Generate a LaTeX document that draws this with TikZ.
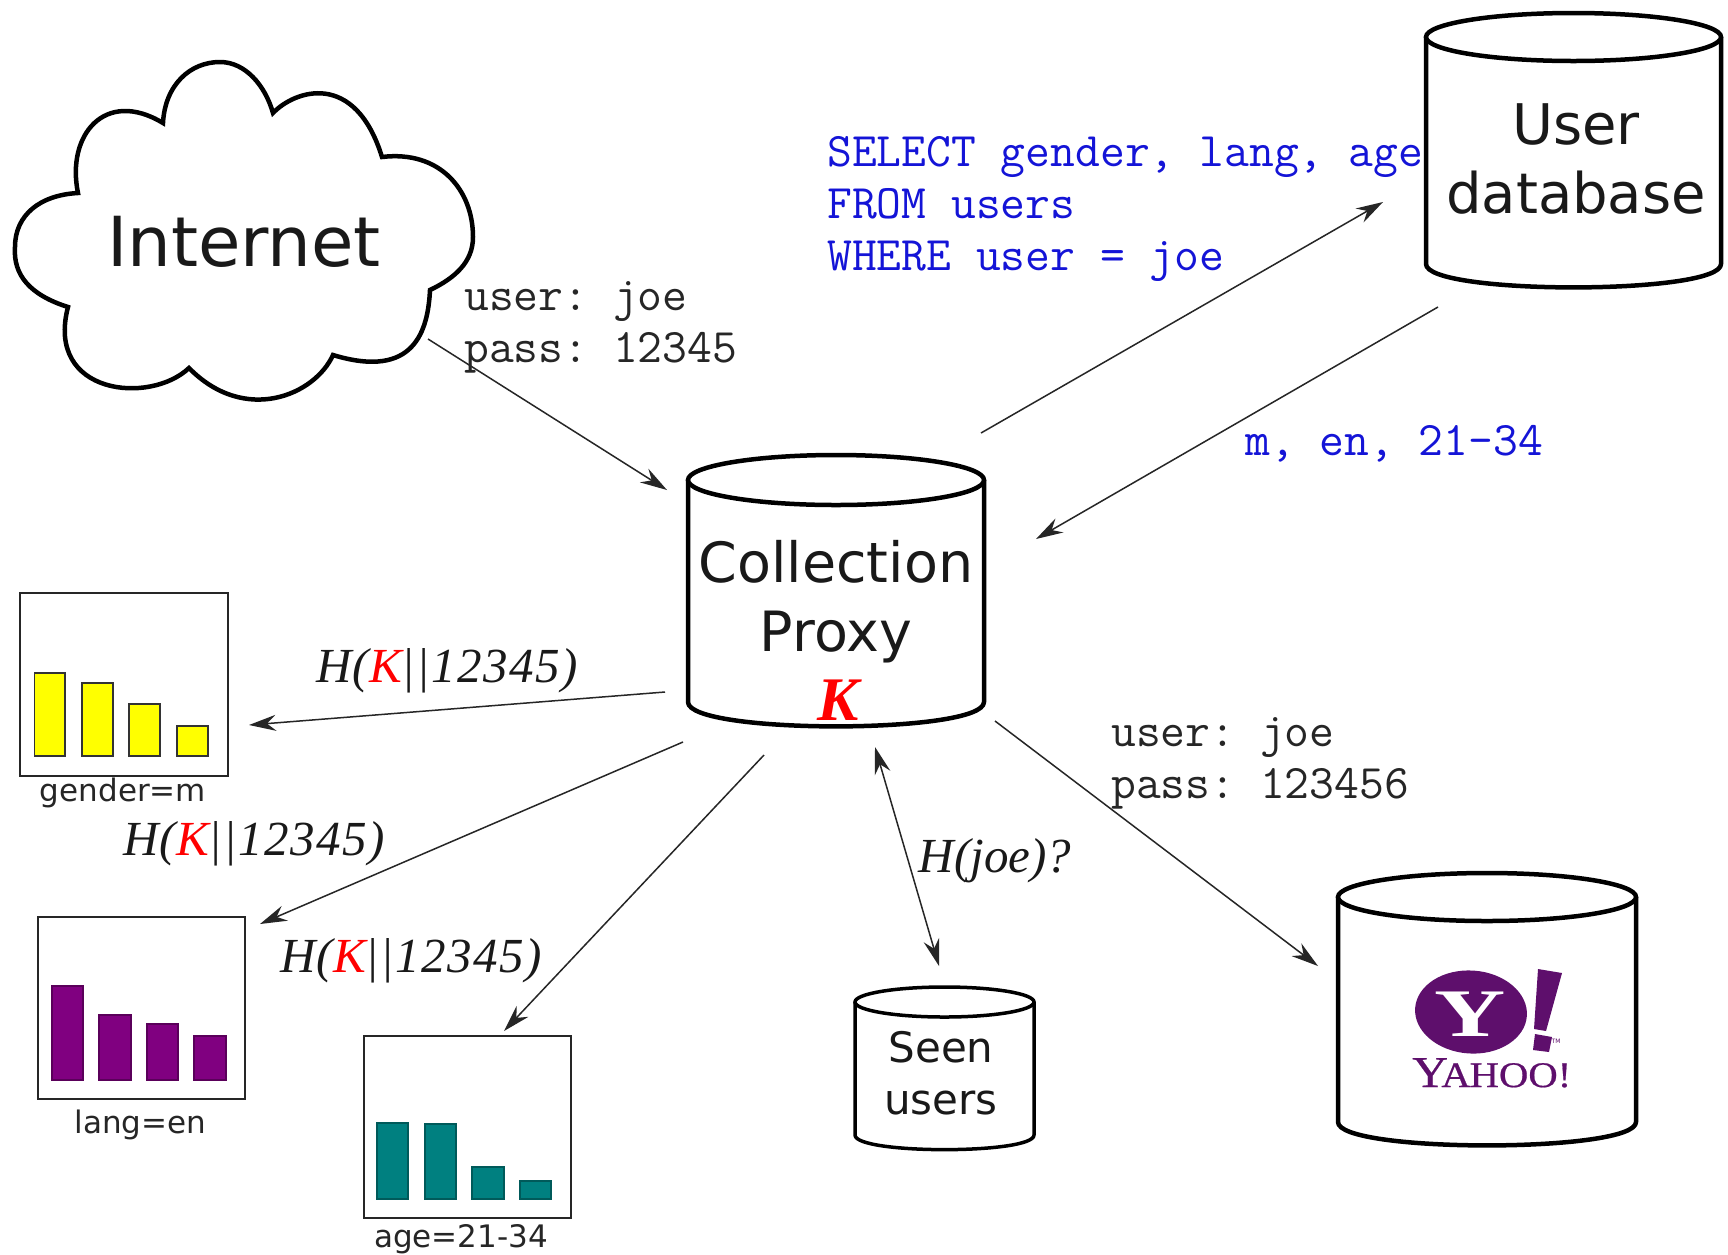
\documentclass[tikz,border=0pt]{standalone}
\usepackage{fontspec}
\setsansfont{DejaVu Sans}
\setmainfont{Liberation Serif}
\usetikzlibrary{arrows.meta,calc}
\newcommand{\fsz}[1]{\fontsize{#1}{#1}\selectfont}
\definecolor{yahoopurple}{HTML}{5E0F6C}
\definecolor{sqlblue}{RGB}{20,20,215}
\definecolor{baryellow}{RGB}{255,255,0}
\definecolor{barpurple}{HTML}{800080}
\definecolor{barteal}{HTML}{008080}
\newcommand{\dbcyl}[6][4.5pt]{%
  \draw[line width=#1,fill=white,line join=round]
    (#2,{#4}) -- (#2,#6) .. controls (#2,{#6+#5*1.3}) and (#3,{#6+#5*1.3}) .. (#3,#6) -- (#3,#4);
  \draw[line width=#1,fill=white] ({(#2+#3)/2},#4) ellipse [x radius={(#3-#2)/2}, y radius=#5];
}
\tikzset{
  conn/.style={line width=1.5pt,draw=black!85,-{Stealth[length=27pt,width=16pt,inset=9pt]}},
  conntwo/.style={line width=1.5pt,draw=black!85,{Stealth[length=27pt,width=16pt,inset=9pt]}-{Stealth[length=27pt,width=16pt,inset=9pt]}},
  region/.style={inner sep=0pt,outer sep=0pt},
  chartbox/.style={draw=black!85,line width=2pt,fill=white,inner sep=0pt,outer sep=0pt},
  bar/.style={draw=black!80,line width=1.5pt},
  chartlabel/.style={font=\sffamily\fsz{31},text=black!85,inner sep=0pt},
  hashlabel/.style={font=\itshape\fsz{49}\addfontfeatures{LetterSpace=3},text=black!90,inner sep=0pt},
  monolabel/.style={font=\ttfamily\fontsize{48.2}{52}\selectfont\addfontfeatures{FakeBold=0.3}\frenchspacing,text=black!85,align=left,anchor=west,inner sep=0pt},
  sqllabel/.style={monolabel,text=sqlblue},
  bigsans/.style={align=center,text=black!90,inner sep=0pt},
}
\begin{document}
\begin{tikzpicture}[x=1pt,y=-1pt]
\useasboundingbox[fill=white] (0,0) rectangle (1728,1254);

% Internet cloud
\draw[line width=4.5pt,line join=miter,fill=white]
  (78,193) .. controls (66,135) and (105,88) .. (163,123)
  .. controls (165,85) and (190,62) .. (220,62)
  .. controls (245,62) and (265,85) .. (273,113)
  .. controls (295,90) and (355,70) .. (382,157)
  .. controls (440,150) and (473,190) .. (473,237)
  .. controls (473,262) and (455,278) .. (430,290)
  .. controls (428,330) and (415,380) .. (333,355)
  .. controls (315,395) and (245,425) .. (189,368)
  .. controls (150,405) and (45,395) .. (68,307)
  .. controls (30,295) and (13,275) .. (15,247)
  .. controls (15,215) and (40,195) .. (78,193) -- cycle;
\node[bigsans,font=\sffamily\fsz{69}] (inet) at (244,242) {Internet};

% Cylinders
\dbcyl{1426}{1721}{37}{24}{264}
\node[bigsans,font=\sffamily\fontsize{56}{69}\selectfont,text width=290pt] (db) at (1576,159) {User\\database};
\dbcyl{688}{984}{480}{25}{702}
\node[bigsans,font=\sffamily\fontsize{55.5}{69}\selectfont,text width=290pt] (proxy) at (836,602) {Collection\\Proxy};
\dbcyl[3.5pt]{855}{1034}{1002}{15}{1135}
\node[bigsans,font=\sffamily\fontsize{42}{52}\selectfont,text width=170pt] (seen) at (941,1073) {Seen\\users};
\dbcyl{1338}{1636}{897}{24}{1122}
\node[region,minimum width=298pt,minimum height=270pt] (yahoo) at (1487,1010) {};
\node[text=red,font=\bfseries\itshape\fsz{62},inner sep=0pt] (key) at (838,700) {K};

% Yahoo logo
\fill[yahoopurple,rotate around={-4:(1471,1012)}] (1471,1012) ellipse [x radius=56, y radius=41.5];
\node[text=white,font=\bfseries\fsz{68},inner sep=0pt] (ylogo) at (1470,1014) {\scalebox{1.45}[1]{Y}};
\fill[yahoopurple] (1538,969) -- (1562,973) -- (1546,1031) -- (1534,1029) -- cycle;
\fill[yahoopurple] (1535,1034) -- (1552,1037) -- (1549,1052) -- (1533,1050) -- cycle;
\node[text=yahoopurple,font=\sffamily\fsz{6},inner sep=0pt] (tm) at (1556,1041) {TM};
\node[text=yahoopurple,font=\fsz{36}\addfontfeatures{FakeBold=0.5},inner sep=0pt,anchor=base west] (ytext) at (1412,1087) {\scalebox{1.13}[1]{{\fsz{44}\addfontfeatures{FakeBold=0.5}Y}\kern-6pt A\kern-1pt HOO!}};

% Charts
\node[chartbox,minimum width=208pt,minimum height=183pt] (gbox) at (124,684.5) {};
\foreach \a/\b/\t in {34.5/65/673, 82/113/683, 129/160/704, 177/208/726}
  \draw[bar,fill=baryellow] (\a,\t) rectangle (\b,756);
\node[chartlabel] (gl) at (123,793) {gender=m};

\node[chartbox,minimum width=207pt,minimum height=182pt] (lbox) at (141.5,1008) {};
\foreach \a/\b/\t in {52/83/986, 99/131/1015, 147/178/1024, 194/226/1036}
  \draw[bar,draw=barpurple!70!black,fill=barpurple] (\a,\t) rectangle (\b,1080);
\node[chartlabel] (ll) at (140.5,1125) {lang=en};

\node[chartbox,minimum width=207pt,minimum height=182pt] (abox) at (467.5,1127) {};
\foreach \a/\b/\t in {377/408/1123, 425/456/1124, 472/504/1167, 520/551/1181}
  \draw[bar,draw=barteal!70!black,fill=barteal] (\a,\t) rectangle (\b,1199);
\node[chartlabel] (al) at (461,1239) {age=21-34};

% Hash labels
\node[hashlabel] (h1) at (447,671) {H(\textcolor{red}{K}||12345)};
\node[hashlabel] (h2) at (254,844) {H(\textcolor{red}{K}||12345)};
\node[hashlabel] (h3) at (411,961) {H(\textcolor{red}{K}||12345)};
\node[hashlabel,font=\itshape\fsz{49}] (h4) at (995,861) {H(joe)?};

% Text
\node[sqllabel] (sql) at (827,209) {SELECT gender, lang, age\\FROM users\\WHERE user = joe};
\node[monolabel] (login) at (464,327) {user: joe\\pass: 12345};
\node[sqllabel] (resp) at (1245,444) {m, en, 21-34};
\node[monolabel] (yahoologin) at (1111,763) {user: joe\\pass: 123456};

% Connectors
\draw[conn] ($(inet)+(184,97)$) -- ($(proxy)+(-169,-112)$);
\draw[conn] ($(proxy)+(145,-169)$) -- ($(db)+(-193,43)$);
\draw[conn] ($(db)+(-138,148)$) -- ($(proxy)+(200,-63)$);
\draw[conn] ($(proxy)+(-171,90)$) -- ($(gbox)+(125,40.5)$);
\draw[conn] ($(proxy)+(-153,140)$) -- ($(lbox)+(118.5,-84)$);
\draw[conn] ($(proxy)+(-72,153)$) -- ($(abox)+(36.5,-96)$);
\draw[conntwo] ($(proxy)+(39,145)$) -- ($(seen)+(-2,-107)$);
\draw[conn] ($(proxy)+(159,119)$) -- ($(yahoo)+(-169,-44)$);
\end{tikzpicture}
\end{document}
